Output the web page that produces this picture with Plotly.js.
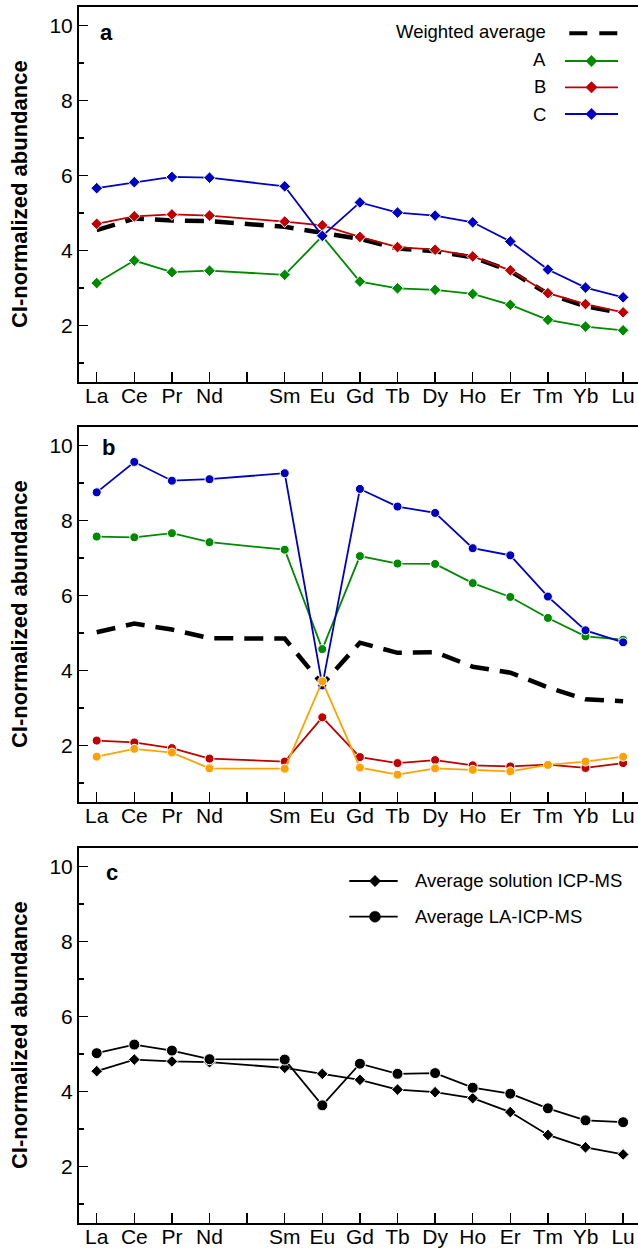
<!DOCTYPE html>
<html><head><meta charset="utf-8">
<script src="https://cdn.plot.ly/plotly-3.0.1.min.js"></script>
<style>html,body{margin:0;padding:0;overflow:hidden;background:#fff}</style>
</head><body><div id="chart" style="width:638px;height:1248px"></div>
<script>
// ---- data ----
const elements   = ['La','Ce','Pr','Nd','Pm','Sm','Eu','Gd','Tb','Dy','Ho','Er','Tm','Yb','Lu'];
const tickLabels = ['La','Ce','Pr','Nd','','Sm','Eu','Gd','Tb','Dy','Ho','Er','Tm','Yb','Lu'];
// panel a
const aA = [3.13,3.73,3.42,3.46,null,3.35,4.38,3.17,2.99,2.95,2.84,2.55,2.15,1.97,1.87];
const aB = [4.71,4.91,4.96,4.93,null,4.77,4.67,4.36,4.09,4.02,3.84,3.47,2.86,2.57,2.35];
const aC = [5.66,5.82,5.96,5.94,null,5.71,4.39,5.28,5.01,4.93,4.75,4.24,3.49,3.01,2.75];
// panel b
const bGreen  = [7.57,7.55,7.66,7.42,null,7.22,4.57,7.05,6.85,6.84,6.33,5.96,5.40,4.91,4.82];
const bRed    = [2.13,2.08,1.93,1.65,null,1.57,2.75,1.69,1.53,1.61,1.47,1.44,1.49,1.40,1.53];
const bBlue   = [8.75,9.56,9.06,9.10,null,9.26,3.60,8.84,8.37,8.20,7.26,7.07,5.97,5.07,4.75];
const bOrange = [1.70,1.91,1.81,1.39,null,1.38,3.71,1.41,1.22,1.39,1.35,1.31,1.48,1.57,1.70];
// averages (panel c; dashed weighted averages in a and b)
const solAvg = [4.54,4.85,4.80,4.78,null,4.63,4.47,4.31,4.05,3.98,3.82,3.45,2.84,2.51,2.32];
const laAvg  = [5.02,5.25,5.09,4.86,null,4.85,3.63,4.74,4.47,4.49,4.10,3.94,3.55,3.23,3.18];
const legendA = ['Weighted average','A','B','C'];
const legendC = ['Average solution ICP-MS','Average LA-ICP-MS'];

// ---- style ----
const F = 'Liberation Sans, Arial, Helvetica, sans-serif';
const GREEN='#008a00', RED='#c00000', BLUE='#0000c0', ORANGE='#ffa200', BLACK='#000';
const W=638, H=1248;
const PX = v => v/W, PY = v => 1 - v/H;

function series(y, color, sym, size, xa, ya){
  return {x:elements, y:y, xaxis:xa, yaxis:ya, type:'scatter', mode:'lines+markers',
    connectgaps:true, line:{color:color, width:1.8},
    marker:{symbol:sym, size:size, color:color, line:{color:'#fff', width:1}},
    showlegend:false, hoverinfo:'skip', cliponaxis:false};
}
function dashed(y, xa, ya){
  return {x:elements, y:y, xaxis:xa, yaxis:ya, type:'scatter', mode:'lines', connectgaps:true,
    line:{color:BLACK, width:4.5, dash:'19px,11px'}, showlegend:false, hoverinfo:'skip'};
}
const traces = [
  dashed(solAvg,'x','y'),
  series(aA, GREEN,'diamond',9,'x','y'),
  series(aB, RED,'diamond',9,'x','y'),
  series(aC, BLUE,'diamond',9,'x','y'),
  dashed(laAvg,'x2','y2'),
  series(bGreen, GREEN,'circle',9,'x2','y2'),
  series(bBlue, BLUE,'circle',9,'x2','y2'),
  series(bRed, RED,'circle',9,'x2','y2'),
  series(bOrange, ORANGE,'circle',9,'x2','y2'),
  series(solAvg, BLACK,'diamond',9,'x3','y3'),
  series(laAvg, BLACK,'circle',11,'x3','y3')
];

function xax(anchor){
  return {domain:[79/W,1], anchor:anchor, type:'category', categoryorder:'array', categoryarray:elements,
    range:[-0.471,14.396], tickmode:'array', tickvals:elements, ticktext:tickLabels,
    ticks:'inside', ticklen:10, tickwidth:1.5, tickcolor:BLACK, ticklabelstandoff:-6,
    showline:true, linewidth:2, linecolor:BLACK, mirror:true, showgrid:false, zeroline:false,
    tickfont:{family:F, size:21, color:BLACK}, fixedrange:true};
}
function yax(anchor, top, bottom){
  return {domain:[PY(bottom), PY(top)], anchor:anchor, range:[0.5,10.5], tick0:0, dtick:2,
    ticks:'inside', ticklen:9, tickwidth:1.5, tickcolor:BLACK,
    minor:{dtick:1, ticks:'inside', ticklen:5, tickwidth:1.5, tickcolor:BLACK, showgrid:false},
    showline:true, linewidth:2, linecolor:BLACK, showgrid:false, zeroline:false,
    tickfont:{family:F, size:21, color:BLACK},
    title:{text:'CI-normalized abundance', font:{family:F, size:22, color:BLACK, weight:'bold'}, standoff:16},
    fixedrange:true};
}

const annotations = [];
const shapes = [];
function label(t, x, y, anchor, size, bold){
  annotations.push({text:t, xref:'paper', yref:'paper', x:PX(x), y:PY(y), xanchor:anchor, yanchor:'middle',
    showarrow:false, font:{family:F, size:size, color:BLACK, weight: bold?'bold':'normal'}});
}
label('a', 98, 32.5, 'left', 22, true);
label('b', 100, 447.5, 'left', 22, true);
label('c', 104, 872.5, 'left', 22, true);

function lineShape(x0,x1,y,color,width,dash){
  shapes.push({type:'line', xref:'paper', yref:'paper', x0:PX(x0), x1:PX(x1), y0:PY(y), y1:PY(y),
    line:{color:color, width:width, dash:dash||'solid'}});
}
function diamondShape(cx,cy,r,color){
  shapes.push({type:'path', xref:'paper', yref:'paper',
    path:`M ${PX(cx)} ${PY(cy-r)} L ${PX(cx+r)} ${PY(cy)} L ${PX(cx)} ${PY(cy+r)} L ${PX(cx-r)} ${PY(cy)} Z`,
    fillcolor:color, line:{color:color, width:0.5}});
}
function circleShape(cx,cy,r,color){
  shapes.push({type:'circle', xref:'paper', yref:'paper', x0:PX(cx-r), x1:PX(cx+r), y0:PY(cy+r), y1:PY(cy-r),
    fillcolor:color, line:{color:color, width:0.5}});
}
// legend panel a (text left of sample)
const legAy = [33.3, 61, 87.3, 114];
const legAtextY = [31.2, 59.5, 86.8, 114];
const legAcol = [BLACK, GREEN, RED, BLUE];
legendA.forEach((t,i)=>{
  label(t, 548, legAtextY[i], 'right', 18.5, false);
  if(i===0){ lineShape(569.3, 617.7, legAy[i], BLACK, 4, '18px,12px'); }
  else { lineShape(565, 618, legAy[i], legAcol[i], 1.8); diamondShape(591.5, legAy[i], 5.7, legAcol[i]); }
});
// legend panel c (sample left of text)
const legCy = [881, 916.7];
legendC.forEach((t,i)=>{
  label(t, 413.3, legCy[i]-0.5, 'left', 18.5, false);
  lineShape(349.3, 397.7, legCy[i], BLACK, 1.8);
  if(i===0) diamondShape(375, legCy[i], 5.7, BLACK); else circleShape(375, legCy[i], 5.5, BLACK);
});

const layout = {
  width:W, height:H, margin:{l:0,r:0,t:0,b:0}, paper_bgcolor:'#fff', plot_bgcolor:'#fff',
  showlegend:false, font:{family:F, color:BLACK},
  xaxis:xax('y'), yaxis:yax('x', 6.7, 381.7),
  xaxis2:xax('y2'), yaxis2:yax('x2', 426.7, 801.7),
  xaxis3:xax('y3'), yaxis3:yax('x3', 847.7, 1222.7),
  annotations:annotations, shapes:shapes
};
Plotly.newPlot('chart', traces, layout, {staticPlot:true, displayModeBar:false});
</script></body></html>
